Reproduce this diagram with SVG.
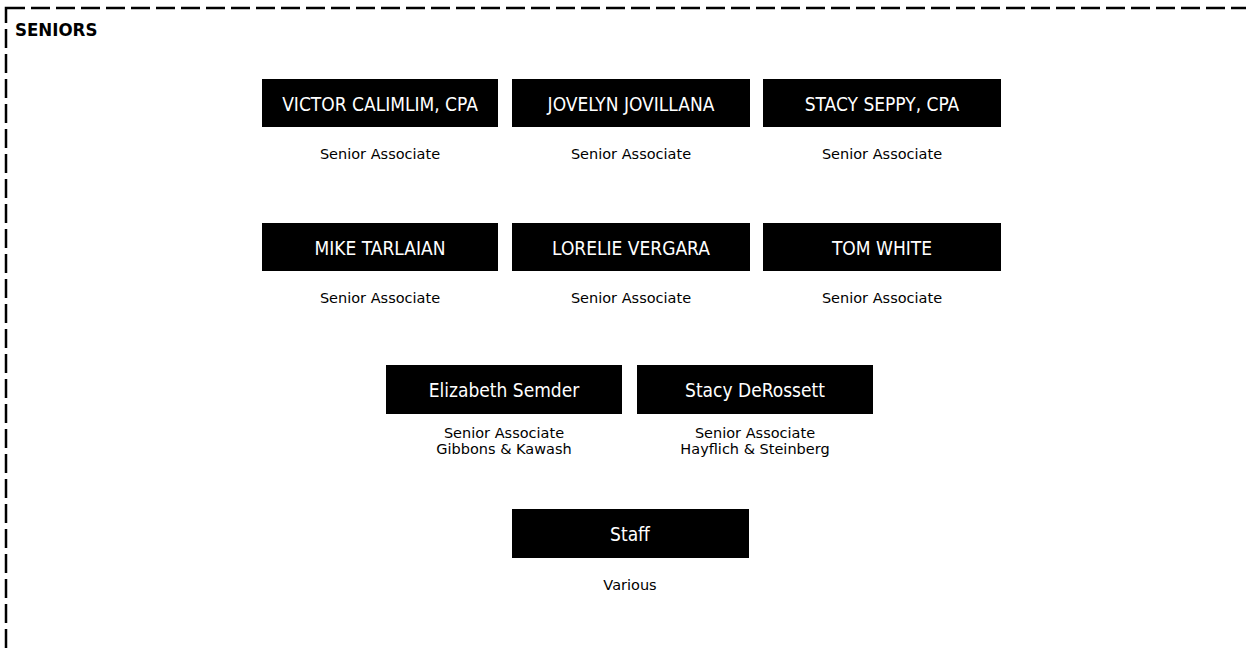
<svg xmlns="http://www.w3.org/2000/svg" width="1246" height="650" viewBox="0 0 1246 650">
<style>
.box{fill:#000}
.nm{font-family:"DejaVu Sans Condensed","DejaVu Sans",sans-serif;font-size:19px;fill:#fff;text-anchor:middle}
.sub{font-family:"DejaVu Sans","Verdana",sans-serif;font-size:14.5px;fill:#000;text-anchor:middle}
.ttl{font-family:"DejaVu Sans Condensed","DejaVu Sans",sans-serif;font-size:18.5px;font-weight:bold;fill:#000}
</style>
<rect width="1246" height="650" fill="#fff"/>
<rect x="6" y="8" width="1260" height="660" fill="none" stroke="#000" stroke-width="2.5" stroke-dasharray="19 6"/>
<text class="ttl" x="15" y="36">SENIORS</text>
<g id="victor"><rect class="box" x="262" y="79" width="236" height="48"/><text class="nm" x="380" y="111">VICTOR CALIMLIM, CPA</text><text class="sub" x="380" y="159">Senior Associate</text></g>
<g id="jovelyn"><rect class="box" x="512" y="79" width="238" height="48"/><text class="nm" x="631" y="111">JOVELYN JOVILLANA</text><text class="sub" x="631" y="159">Senior Associate</text></g>
<g id="stacy-seppy"><rect class="box" x="763" y="79" width="238" height="48"/><text class="nm" x="882" y="111">STACY SEPPY, CPA</text><text class="sub" x="882" y="159">Senior Associate</text></g>
<g id="mike"><rect class="box" x="262" y="223" width="236" height="48"/><text class="nm" x="380" y="255">MIKE TARLAIAN</text><text class="sub" x="380" y="303">Senior Associate</text></g>
<g id="lorelie"><rect class="box" x="512" y="223" width="238" height="48"/><text class="nm" x="631" y="255">LORELIE VERGARA</text><text class="sub" x="631" y="303">Senior Associate</text></g>
<g id="tom"><rect class="box" x="763" y="223" width="238" height="48"/><text class="nm" x="882" y="255">TOM WHITE</text><text class="sub" x="882" y="303">Senior Associate</text></g>
<g id="elizabeth"><rect class="box" x="386" y="365" width="236" height="49"/><text class="nm" x="504" y="397">Elizabeth Semder</text><text class="sub" x="504" y="438">Senior Associate</text><text class="sub" x="504" y="454">Gibbons &amp; Kawash</text></g>
<g id="stacy-derossett"><rect class="box" x="637" y="365" width="236" height="49"/><text class="nm" x="755" y="397">Stacy DeRossett</text><text class="sub" x="755" y="438">Senior Associate</text><text class="sub" x="755" y="454">Hayflich &amp; Steinberg</text></g>
<g id="staff"><rect class="box" x="512" y="509" width="237" height="49"/><text class="nm" x="630" y="541">Staff</text><text class="sub" x="630" y="590">Various</text></g>
<g id="connectors"/>
</svg>
